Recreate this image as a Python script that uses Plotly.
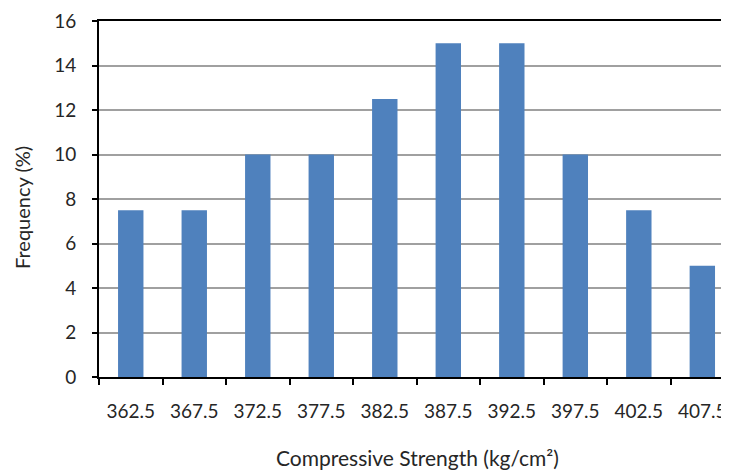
import plotly.graph_objects as go

categories = ["362.5", "367.5", "372.5", "377.5", "382.5", "387.5", "392.5", "397.5", "402.5", "407.5"]
frequency = [7.5, 7.5, 10, 10, 12.5, 15, 15, 10, 7.5, 5]

# page body has an 8px margin; figure is offset accordingly
OFF = 8
W, H = 729 - OFF, 472 - OFF
L, T, B = 99 - OFF, 21 - OFF, H - (377 - OFF)
PW, PH = W - L, H - T - B

fig = go.Figure(go.Bar(x=categories, y=frequency, marker=dict(color="#4F81BD", line=dict(width=0))))

font = "Lato, sans-serif"
txt = "#262626"
fig.update_layout(
    width=W, height=H,
    margin=dict(l=L, r=0, t=T, b=B, autoexpand=False),
    plot_bgcolor="white", paper_bgcolor="white",
    bargap=0.6, showlegend=False,
    font=dict(family=font, size=19, color=txt),
)
fig.update_xaxes(
    type="category", range=[-0.5, 9.42], automargin=False,
    showline=True, linecolor="black", linewidth=2, mirror=True,
    ticks="outside", tickson="boundaries", ticklen=6, tickcolor="black", tickwidth=2,
    ticklabelstandoff=16, showgrid=False,
    tickfont=dict(family=font, size=19, color=txt),
)
fig.update_yaxes(
    range=[0, 16], dtick=2, automargin=False,
    showline=True, linecolor="black", linewidth=2,
    ticks="outside", ticklen=5, tickcolor="black", tickwidth=2,
    showgrid=True, gridcolor="#A0A0A0", gridwidth=1.5,
    tickfont=dict(family=font, size=19, color=txt),
    ticklabelstandoff=12, zeroline=False,
)
fig.add_annotation(text="Frequency (%)", xref="paper", yref="paper",
                   x=-(99 - 22) / PW, y=(377 - 208) / PH, xanchor="center", yanchor="middle",
                   showarrow=False, textangle=-90, font=dict(family=font, size=20, color=txt))
fig.add_annotation(text="Compressive Strength (kg/cm²)", xref="paper", yref="paper",
                   x=(417 - 99) / PW, y=-(457 - 377) / PH, xanchor="center", yanchor="middle",
                   showarrow=False, font=dict(family=font, size=21, color=txt))

fig.write_html("out.html")
